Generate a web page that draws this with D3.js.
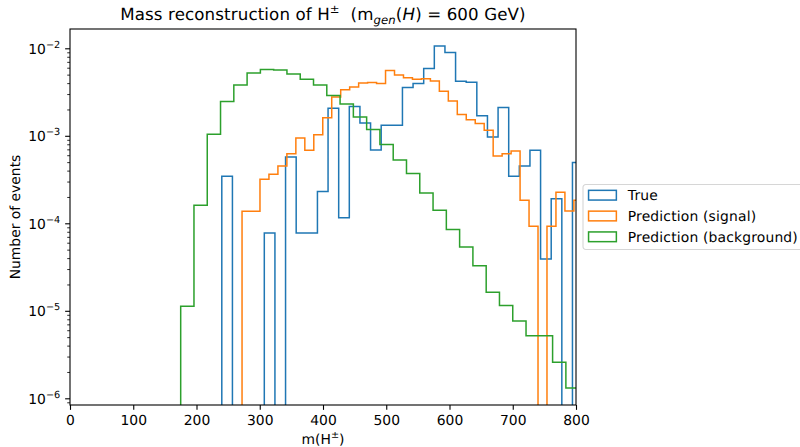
<!DOCTYPE html>
<meta charset="utf-8">
<body style="margin:0; background:#fff">
<script src="https://d3js.org/d3.v7.min.js"></script>
<div id="my_dataviz"></div>
<script>

// bins: each histogram has its own uniform binning (first edge, bin width)
var trueStart = 240, trueWidth = 16.8
var trueValues = [3.44e-4, 0, 0, 0, 7.75e-5, 0, 5.72e-4, 7.75e-5, 7.75e-5, 2.31e-4,
  2.06e-3, 1.16e-4, 2.16e-3, 1.40e-3, 6.9e-4, 1.32e-3, 1.32e-3, 3.56e-3, 3.95e-3, 5.86e-3,
  1.06e-2, 8.93e-3, 4.2e-3, 4.1e-3, 1.69e-3, 9.7e-4, 2.1e-3, 3.44e-4, 4.52e-4, 6.83e-4,
  3.91e-5, 1.91e-4, 0, 4.94e-4]

var sigStart = 272, sigWidth = 14.18
var sigValues = [1.37e-4, 1.37e-4, 3.18e-4, 3.63e-4, 4.52e-4, 6.25e-4, 9.44e-4, 6.83e-4, 1.03e-3, 1.61e-3,
  2.78e-3, 3.37e-3, 3.61e-3, 4.02e-3, 4.06e-3, 3.95e-3, 5.56e-3, 4.95e-3, 4.62e-3, 4.42e-3,
  4.5e-3, 4.23e-3, 3.23e-3, 2.5e-3, 1.75e-3, 1.53e-3, 1.38e-3, 1.16e-3, 5.88e-4, 6.25e-4,
  6.7e-4, 1.83e-4, 9.24e-5, 0, 9.24e-5, 2.26e-4, 1.38e-4, 1.83e-4]

var bkgStart = 175, bkgWidth = 21
var bkgValues = [1.13e-5, 1.61e-4, 1.04e-3, 2.46e-3, 3.81e-3, 5.22e-3, 5.71e-3, 5.65e-3, 5.09e-3, 4.42e-3,
  3.81e-3, 2.88e-3, 2.31e-3, 1.64e-3, 1.18e-3, 7.93e-4, 5.29e-4, 3.70e-4, 2.22e-4, 1.41e-4,
  8.48e-5, 5.37e-5, 3.28e-5, 1.63e-5, 1.15e-5, 7.64e-6, 5.2e-6, 5.2e-6, 2.58e-6, 1.31e-6]

var seriesNames = ["True", "Prediction (signal)", "Prediction (background)"]
var seriesColors = ["#1f77b4", "#ff7f0e", "#2ca02c"]

var xTicks = [0, 100, 200, 300, 400, 500, 600, 700, 800]
var yDecades = [-6, -5, -4, -3, -2]

// figure layout (matplotlib at 100 dpi -> 10pt = 13.89px)
var W = 800, H = 447
var margin = {top: 29, right: 224, bottom: 42, left: 70},
    width = W - margin.left - margin.right,
    height = H - margin.top - margin.bottom
var fs = 13.89

var svg = d3.select("#my_dataviz")
  .append("svg")
    .attr("width", W)
    .attr("height", H)
    .style("font-family", "'DejaVu Sans', sans-serif")
    .style("text-rendering", "geometricPrecision")
    .style("display", "block")

var g = svg.append("g")
    .attr("transform", "translate(" + margin.left + "," + margin.top + ")")

var x = d3.scaleLinear().domain([0, 800]).range([0, width])
var y = d3.scaleLog().domain([Math.pow(10, -6.0765), Math.pow(10, -1.7795)]).range([height, 0])

g.append("clipPath").attr("id", "clip")
  .append("rect").attr("width", width).attr("height", height)

// step outline like histtype='step'
function stepPoints(start, w, vals) {
  var pts = [[start, 0]]
  vals.forEach(function(v, i) {
    pts.push([start + i * w, v])
    pts.push([start + (i + 1) * w, v])
  })
  pts.push([start + vals.length * w, 0])
  return pts
}
var line = d3.line()
  .x(function(d) { return x(d[0]) })
  .y(function(d) { return y(Math.max(d[1], 1e-9)) })

var hists = [
  stepPoints(trueStart, trueWidth, trueValues),
  stepPoints(sigStart, sigWidth, sigValues),
  stepPoints(bkgStart, bkgWidth, bkgValues)
]

g.append("g").attr("clip-path", "url(#clip)")
  .selectAll("path")
  .data(hists)
  .join("path")
    .attr("d", line)
    .style("fill", "none")
    .style("stroke", function(d, i) { return seriesColors[i] })
    .style("stroke-width", 1.5)
    .style("stroke-linejoin", "miter")

// x axis
var xAxis = g.append("g")
  .attr("transform", "translate(0," + height + ")")
  .call(d3.axisBottom(x).tickValues(xTicks).tickSize(4.86).tickPadding(4.86).tickFormat(d3.format("d")))
xAxis.select(".domain").remove()
xAxis.selectAll("line").style("stroke-width", 1.1)
xAxis.selectAll("text").style("font-size", fs + "px").style("fill", "#000")
  .style("font-family", "'DejaVu Sans', sans-serif")

// y axis: decades with mathtext-like labels, minor ticks
var minor = []
for (var e = -7; e <= -2; e++) {
  for (var m = 2; m <= 9; m++) {
    var v = m * Math.pow(10, e)
    if (v >= y.domain()[0] && v <= y.domain()[1]) minor.push(v)
  }
}
var yMinor = g.append("g")
  .call(d3.axisLeft(y).tickValues(minor).tickSize(2.78).tickFormat(""))
yMinor.select(".domain").remove()
yMinor.selectAll("line").style("stroke-width", 0.83)

var yAxis = g.append("g")
  .call(d3.axisLeft(y).tickValues(yDecades.map(function(d) { return Math.pow(10, d) }))
    .tickSize(4.86).tickPadding(4.86).tickFormat(""))
yAxis.select(".domain").remove()
yAxis.selectAll("line").style("stroke-width", 1.1)
yAxis.selectAll(".tick text")
  .style("font-size", fs + "px")
  .style("fill", "#000")
  .style("font-family", "'DejaVu Sans', sans-serif")
  .attr("dy", "0.36em")
  .each(function(d) {
    var t = d3.select(this)
    t.append("tspan").text("10")
    t.append("tspan").attr("dy", -6.2).style("font-size", (fs * 0.7) + "px")
      .text("\u2212" + Math.abs(Math.round(Math.log10(d))))
  })

// frame
g.append("rect")
  .attr("width", width)
  .attr("height", height)
  .style("fill", "none")
  .style("stroke", "#000")
  .style("stroke-width", 1.1)

// labels
var xl = svg.append("text")
  .attr("x", margin.left + width / 2)
  .attr("y", 444)
  .attr("text-anchor", "middle")
  .style("font-size", fs + "px")
xl.append("tspan").text("m(H")
xl.append("tspan").attr("dy", -6).style("font-size", (fs * 0.7) + "px").text("\u00b1")
xl.append("tspan").attr("dy", 6).text(")")

svg.append("text")
  .attr("transform", "translate(20," + (margin.top + height / 2) + ") rotate(-90)")
  .attr("text-anchor", "middle")
  .style("font-size", fs + "px")
  .text("Number of events")

var title = svg.append("text")
  .attr("x", margin.left + width / 2)
  .attr("y", 20)
  .attr("text-anchor", "middle")
  .style("font-size", "16.67px")
  .style("letter-spacing", "0.12px")
title.append("tspan").text("Mass reconstruction of H")
title.append("tspan").attr("dy", -7).style("font-size", "11.67px").text("\u00b1")
title.append("tspan").attr("dy", 7).text("\u00a0 (m")
title.append("tspan").attr("dy", 3.5).style("font-size", "11.67px").style("font-style", "italic").text("gen")
title.append("tspan").attr("dy", -3.5).text("(")
title.append("tspan").style("font-style", "italic").text("H")
title.append("tspan").text(") = 600 GeV)")

// legend, anchored at the right of the axes
var lg = svg.append("g").attr("transform", "translate(583,184.5)")
lg.append("rect")
  .attr("width", 232)
  .attr("height", 65)
  .attr("rx", 2.8)
  .style("fill", "#fff")
  .style("fill-opacity", 0.8)
  .style("stroke", "#d6d6d6")
  .style("stroke-width", 1.1)

var rows = lg.selectAll(".row")
  .data(seriesNames)
  .join("g")
    .attr("class", "row")
    .attr("transform", function(d, i) { return "translate(0," + (10.7 + i * 20.8) + ")" })
rows.append("rect")
  .attr("x", 5.56)
  .attr("y", -4.86)
  .attr("width", 27.8)
  .attr("height", 9.72)
  .style("fill", "none")
  .style("stroke", function(d, i) { return seriesColors[i] })
  .style("stroke-width", 1.5)
rows.append("text")
  .attr("x", 44.8)
  .attr("y", 5)
  .style("font-size", fs + "px")
  .style("letter-spacing", "0.17px")
  .text(function(d) { return d })

</script>
</body>
